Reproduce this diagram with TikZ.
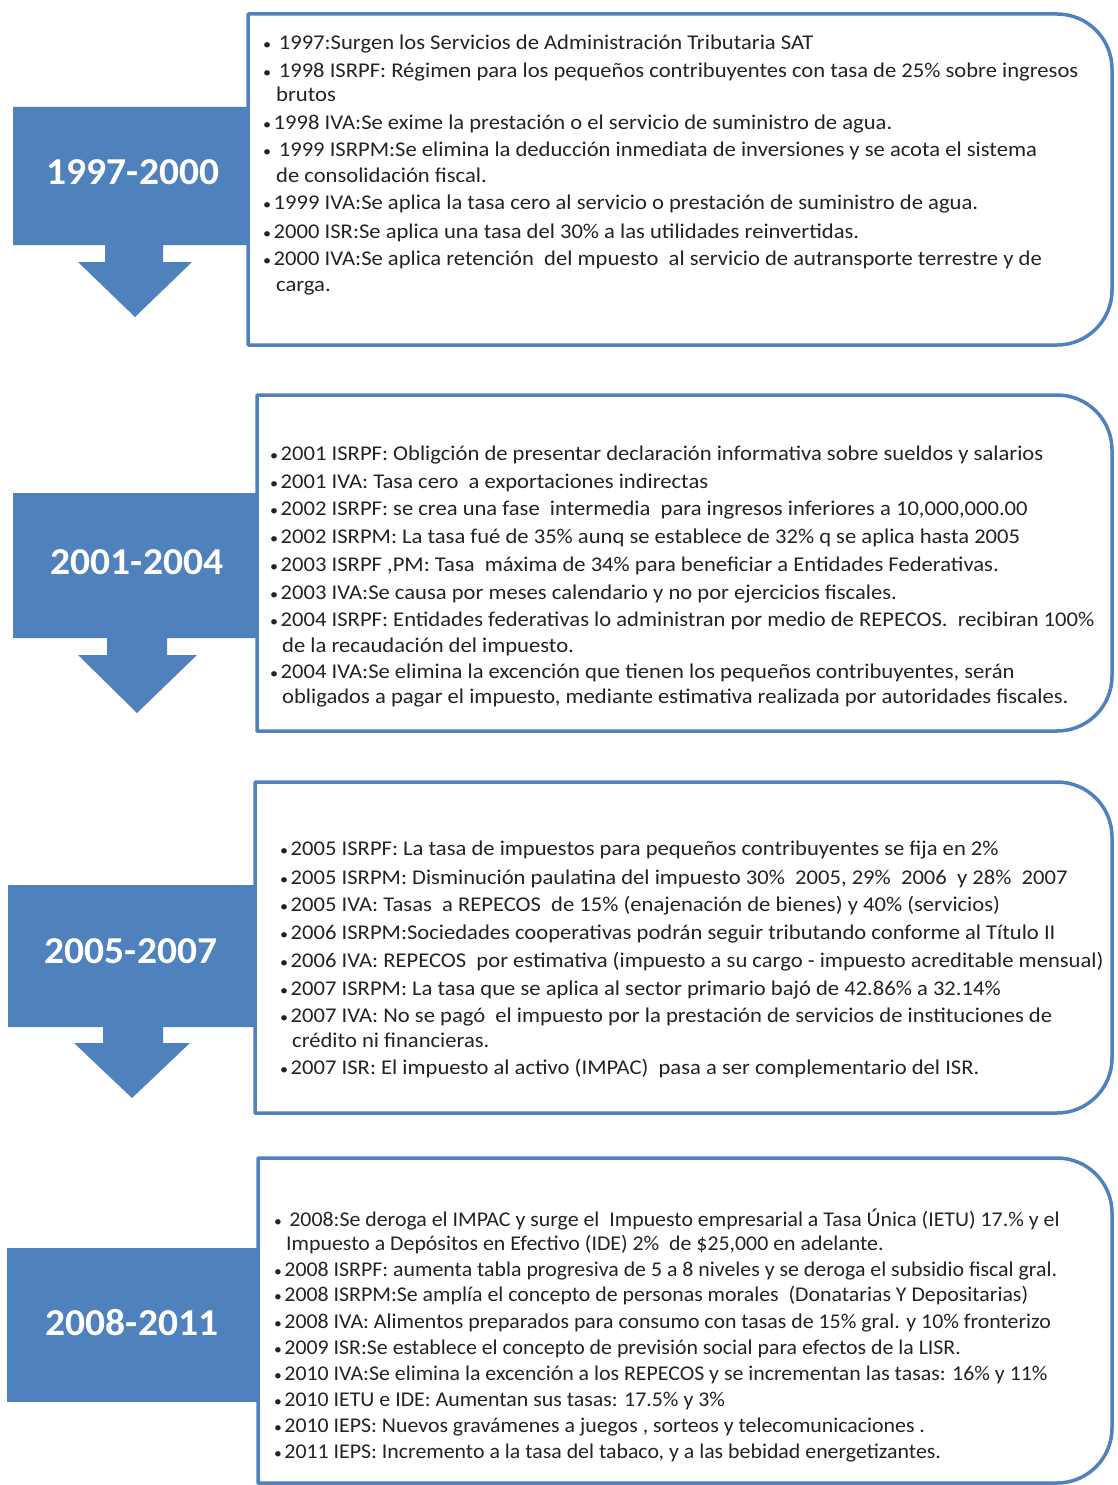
\documentclass[tikz,border=0pt]{standalone}
\usepackage{fontspec}
\setmainfont{Carlito}
\newfontfamily\bodyfont{Carlito}[FakeStretch=1.076]
\newfontfamily\bodyfontb{Carlito}[FakeStretch=1.04]
\newfontfamily\labfont{Carlito}[FakeStretch=1.04]
\definecolor{ofblue}{RGB}{79,129,189}
\definecolor{txtgray}{RGB}{35,35,35}
\newcommand\bl{{\fontsize{15}{15}\selectfont•}\hspace{2.5pt}}
\tikzset{
  bluefill/.style={fill=ofblue,draw=none},
  framebox/.style={draw=ofblue,line width=3.5pt,fill=white,line join=round},
  lab/.style={text=white,font=\labfont\fontsize{38}{38}\selectfont\bfseries,inner sep=0pt,anchor=center},
  ln/.style={anchor=base west,inner sep=0pt,text=txtgray,font=\bodyfont\fontsize{21}{24}\selectfont},
  lnb/.style={anchor=base west,inner sep=0pt,text=txtgray,font=\bodyfontb\fontsize{21}{24}\selectfont},
}
\newcommand\tlbox[4]{%
  \draw[framebox] (#1,-#3) -- (#1,-#2) -- ({#4-55},-#2) arc[start angle=90,end angle=0,radius=55]
    -- (#4,{-#3+55}) arc[start angle=0,end angle=-90,radius=55] -- cycle;}
\begin{document}
\begin{tikzpicture}[x=1pt,y=1pt]
\useasboundingbox (0,0) rectangle (1117,-1485);
\fill[white] (0,0) rectangle (1117,-1485);

% ---------- section 1 ----------
\fill[bluefill] (13,-107) -- (250,-107) -- (250,-245) -- (163,-245) -- (163,-262) -- (192,-262)
  -- (135,-317) -- (78,-262) -- (105,-262) -- (105,-245) -- (13,-245) -- cycle;
\tlbox{248}{14}{345}{1112}
\node[lab] (p1) at (133,-172) {1997-2000};
\node[ln] (a1) at (263,-50) {\bl\ 1997:Surgen los Servicios de Administración Tributaria SAT};
\node[ln] (a2) at (263,-78) {\bl\ 1998 ISRPF: Régimen para los pequeños contribuyentes con tasa de 25\% sobre ingresos};
\node[ln] (a2b) at (276,-102) {brutos};
\node[ln] (a3) at (263,-130) {\bl 1998 IVA:Se exime la prestación o el servicio de suministro de agua.};
\node[ln] (a4) at (263,-157) {\bl\ 1999 ISRPM:Se elimina la deducción inmediata de inversiones y se acota el sistema};
\node[ln] (a4b) at (276,-182) {de consolidación fiscal.};
\node[ln] (a5) at (263,-209) {\bl 1999 IVA:Se aplica la tasa cero al servicio o prestación de suministro de agua.};
\node[ln] (a6) at (263,-238) {\bl 2000 ISR:Se aplica una tasa del 30\% a las utilidades reinvertidas.};
\node[ln] (a7) at (263,-265) {\bl 2000 IVA:Se aplica retención\ \ del mpuesto\ \ al servicio de autransporte terrestre y de};
\node[ln] (a7b) at (276,-291) {carga.};

% ---------- section 2 ----------
\fill[bluefill] (13,-493) -- (259,-493) -- (259,-638) -- (167,-638) -- (167,-655) -- (197,-655)
  -- (137,-713) -- (78,-655) -- (107,-655) -- (107,-638) -- (13,-638) -- cycle;
\tlbox{257}{395}{731}{1112}
\node[lab] (p2) at (137,-562) {2001-2004};
\node[ln] (b1) at (270,-460) {\bl 2001 ISRPF: Obligción de presentar declaración informativa sobre sueldos y salarios};
\node[ln] (b2) at (270,-488) {\bl 2001 IVA: Tasa cero\ \ a exportaciones indirectas};
\node[ln] (b3) at (270,-515) {\bl 2002 ISRPF: se crea una fase\ \ intermedia\ \ para ingresos inferiores a 10,000,000.00};
\node[ln] (b4) at (270,-543) {\bl 2002 ISRPM: La tasa fué de 35\% aunq se establece de 32\% q se aplica hasta 2005};
\node[ln] (b5) at (270,-571) {\bl 2003 ISRPF ,PM: Tasa\ \ máxima de 34\% para beneficiar a Entidades Federativas.};
\node[ln] (b6) at (270,-599) {\bl 2003 IVA:Se causa por meses calendario y no por ejercicios fiscales.};
\node[ln] (b7) at (270,-626) {\bl 2004 ISRPF: Entidades federativas lo administran por medio de REPECOS.\ \ recibiran 100\%};
\node[ln] (b7b) at (282,-652) {de la recaudación del impuesto.};
\node[ln] (b8) at (270,-678) {\bl 2004 IVA:Se elimina la excención que tienen los pequeños contribuyentes, serán};
\node[ln] (b8b) at (282,-703) {obligados a pagar el impuesto, mediante estimativa realizada por autoridades fiscales.};

% ---------- section 3 ----------
\fill[bluefill] (8,-885) -- (257,-885) -- (257,-1027) -- (163,-1027) -- (163,-1043) -- (190,-1043)
  -- (132,-1098) -- (74,-1043) -- (103,-1043) -- (103,-1027) -- (8,-1027) -- cycle;
\tlbox{255}{782}{1113}{1112}
\node[lab] (p3) at (131,-951) {2005-2007};
\node[ln] (c1) at (280,-855) {\bl 2005 ISRPF: La tasa de impuestos para pequeños contribuyentes se fija en 2\%};
\node[ln] (c2) at (280,-884) {\bl 2005 ISRPM: Disminución paulatina del impuesto 30\%\ \ 2005, 29\%\ \ 2006\ \ y 28\%\ \ 2007};
\node[ln] (c3) at (280,-911) {\bl 2005 IVA: Tasas\ \ a REPECOS\ \ de 15\% (enajenación de bienes) y 40\% (servicios)};
\node[ln] (c4) at (280,-939) {\bl 2006 ISRPM:Sociedades cooperativas podrán seguir tributando conforme al Título II};
\node[ln] (c5) at (280,-967) {\bl 2006 IVA: REPECOS\ \ por estimativa (impuesto a su cargo - impuesto acreditable mensual)};
\node[ln] (c6) at (280,-995) {\bl 2007 ISRPM: La tasa que se aplica al sector primario bajó de 42.86\% a 32.14\%};
\node[ln] (c7) at (280,-1022) {\bl 2007 IVA: No se pagó\ \ el impuesto por la prestación de servicios de instituciones de};
\node[ln] (c7b) at (292,-1047) {crédito ni financieras.};
\node[ln] (c8) at (280,-1074) {\bl 2007 ISR: El impuesto al activo (IMPAC)\ \ pasa a ser complementario del ISR.};

% ---------- section 4 ----------
\fill[bluefill] (7,-1248) -- (260,-1248) -- (260,-1402) -- (7,-1402) -- cycle;
\tlbox{258}{1158}{1483}{1112}
\node[lab] (p4) at (132,-1323) {2008-2011};
\node[lnb] (d1) at (274,-1226) {\bl\ 2008:Se deroga el IMPAC y surge el\ \ Impuesto empresarial a Tasa Única (IETU) 17.\% y el};
\node[lnb] (d1b) at (286,-1250) {Impuesto a Depósitos en Efectivo (IDE) 2\%\ \ de \$25,000 en adelante.};
\node[lnb] (d2) at (274,-1276) {\bl 2008 ISRPF: aumenta tabla progresiva de 5 a 8 niveles y se deroga el subsidio fiscal gral.};
\node[lnb] (d3) at (274,-1301) {\bl 2008 ISRPM:Se amplía el concepto de personas morales\ \ (Donatarias Y Depositarias)};
\node[lnb] (d4) at (274,-1328) {\bl 2008 IVA: Alimentos preparados para consumo con tasas de 15\% gral. y 10\% fronterizo};
\node[lnb] (d5) at (274,-1354) {\bl 2009 ISR:Se establece el concepto de previsión social para efectos de la LISR.};
\node[lnb] (d6) at (274,-1380) {\bl 2010 IVA:Se elimina la excención a los REPECOS y se incrementan las tasas: 16\% y 11\%};
\node[lnb] (d7) at (274,-1406) {\bl 2010 IETU e IDE: Aumentan sus tasas: 17.5\% y 3\%};
\node[lnb] (d8) at (274,-1432) {\bl 2010 IEPS: Nuevos gravámenes a juegos , sorteos y telecomunicaciones .};
\node[lnb] (d9) at (274,-1458) {\bl 2011 IEPS: Incremento a la tasa del tabaco, y a las bebidad energetizantes.};
\end{tikzpicture}
\end{document}
